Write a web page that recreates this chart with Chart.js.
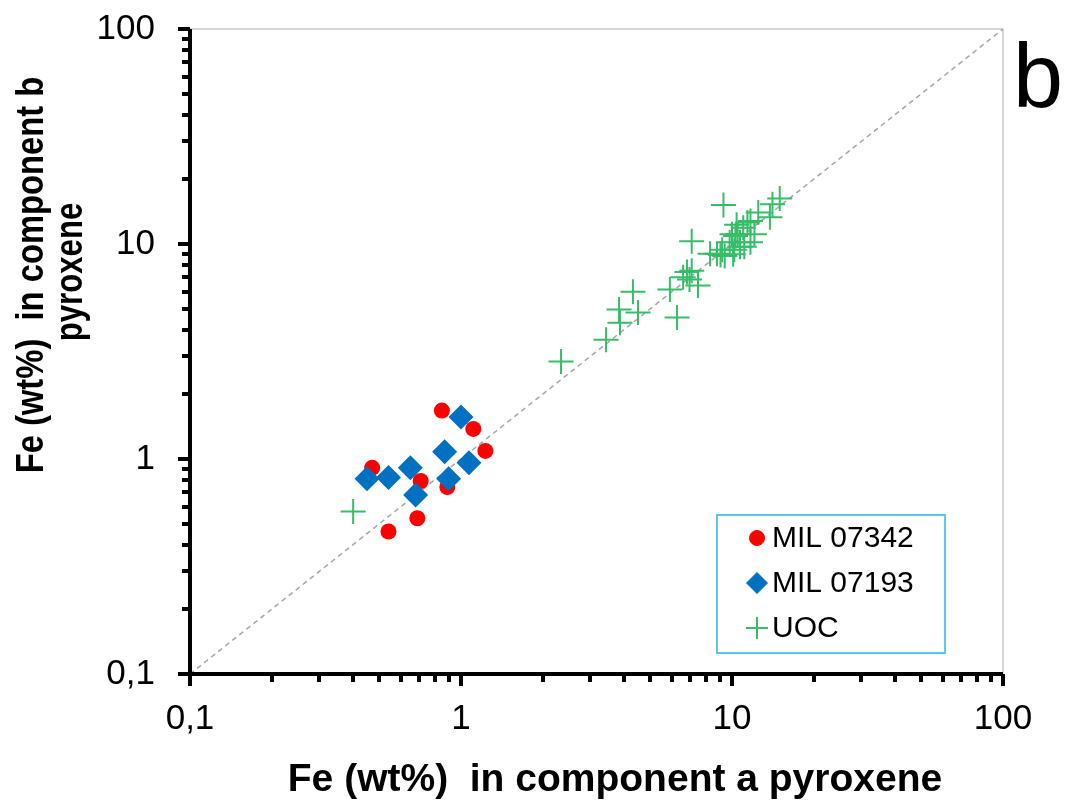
<!DOCTYPE html>
<html>
<head>
<meta charset="utf-8">
<script src="https://cdn.jsdelivr.net/npm/chart.js@4.4.1/dist/chart.umd.min.js"></script>
<style>
html, body { margin: 0; padding: 0; background: #fff; }
#wrap { width: 1066px; height: 803px; }
</style>
</head>
<body>
<div id="wrap"><canvas id="chart" width="1066" height="803"></canvas></div>
<script>
// Fe (wt%) in component a / component b pyroxene
const mil07342A = [0.85, 1.11, 1.23, 0.47, 0.71, 0.89, 0.69, 0.54];
const mil07342B = [1.68, 1.38, 1.09, 0.91, 0.79, 0.74, 0.53, 0.46];

const mil07193A = [1.00, 0.87, 1.07, 0.65, 0.45, 0.54, 0.90, 0.68];
const mil07193B = [1.57, 1.08, 0.96, 0.91, 0.81, 0.82, 0.81, 0.68];

const uocA = [0.40, 2.34, 3.43, 3.83, 3.86, 4.31, 4.50, 5.90, 6.27, 6.60, 6.82, 7.10, 6.97, 7.49, 7.10,
              9.30, 8.30, 8.80, 9.07, 9.20, 9.40, 9.80, 10.0, 10.1, 10.2, 10.4, 10.5, 10.7, 11.0, 11.1,
              11.4, 11.7, 11.7, 12.1, 12.5, 13.8, 14.1, 15.0, 10.3, 10.7];
const uocB = [0.57, 2.84, 3.59, 4.96, 4.30, 6.00, 4.80, 6.15, 4.55, 7.00, 7.40, 7.50, 6.84, 6.41, 10.3,
              15.2, 9.00, 9.00, 8.90, 9.40, 8.80, 10.2, 11.1, 8.95, 9.40, 12.3, 11.1, 10.2, 11.9, 9.70,
              12.6, 10.2, 12.8, 11.1, 14.0, 13.3, 15.3, 16.3, 10.9, 9.70];

const oneToOne = [0.1, 100];

const axisMin = 0.1;
const axisMax = 100;
const decades = [-1, 0, 1];

const FONT = "Arial, 'Liberation Sans', sans-serif";

function pairs(xs, ys) {
    return xs.map((x, i) => ({ x: x, y: ys[i] }));
}

function decadeLabel(value) {
    const lg = Math.log10(value);
    if (Math.abs(lg - Math.round(lg)) > 1e-6) return '';
    return String(value).replace('.', ',');
}

const legendItems = [
    { text: 'MIL 07342', style: 'circle', radius: 7.5, color: '#ff0000', width: 1 },
    { text: 'MIL 07193', style: 'rectRot', radius: 10.5, color: '#0070c0', width: 1 },
    { text: 'UOC', style: 'cross', radius: 11, color: '#36bd68', width: 2 }
];

const framePlugin = {
    id: 'frame',
    beforeDatasetsDraw(chart) {
        const ctx = chart.ctx;
        const a = chart.chartArea;
        ctx.save();
        ctx.strokeStyle = '#c8c8c8';
        ctx.lineWidth = 1.5;
        ctx.beginPath();
        ctx.moveTo(a.left, a.top);
        ctx.lineTo(a.right, a.top);
        ctx.lineTo(a.right, a.bottom);
        ctx.stroke();
        ctx.restore();
    },
    afterDraw(chart) {
        const ctx = chart.ctx;
        const a = chart.chartArea;
        const xs = chart.scales.x;
        const ys = chart.scales.y;
        ctx.save();
        ctx.strokeStyle = '#000';
        ctx.lineWidth = 4;
        ctx.lineCap = 'butt';

        // tick marks, major and minor
        const values = [];
        decades.forEach(d => {
            for (let m = 1; m <= 9; m++) values.push({ v: m * Math.pow(10, d), major: m === 1 });
        });
        values.push({ v: axisMax, major: true });
        ctx.beginPath();
        values.forEach(t => {
            const len = t.major ? 12 : 8;
            const px = Math.round(xs.getPixelForValue(t.v));
            const py = Math.round(ys.getPixelForValue(t.v));
            ctx.moveTo(px, a.bottom);
            ctx.lineTo(px, a.bottom + len);
            ctx.moveTo(a.left, py);
            ctx.lineTo(a.left - len, py);
        });
        ctx.stroke();

        // axis lines
        ctx.beginPath();
        ctx.moveTo(a.left, a.top);
        ctx.lineTo(a.left, a.bottom + 2);
        ctx.moveTo(a.left - 2, a.bottom);
        ctx.lineTo(a.right, a.bottom);
        ctx.stroke();

        // axis titles
        ctx.fillStyle = '#000';
        ctx.font = 'bold 39px ' + FONT;
        ctx.textAlign = 'center';
        ctx.textBaseline = 'alphabetic';
        ctx.fillText('Fe (wt%)  in component a pyroxene', 615, 791);

        ctx.save();
        ctx.translate(43, 275);
        ctx.rotate(-Math.PI / 2);
        ctx.scale(0.84, 1);
        ctx.fillText('Fe (wt%)  in component b', 0, 0);
        ctx.restore();
        ctx.save();
        ctx.translate(82, 272);
        ctx.rotate(-Math.PI / 2);
        ctx.scale(0.8, 1);
        ctx.fillText('pyroxene', 0, 0);
        ctx.restore();

        // panel letter
        ctx.font = '90px ' + FONT;
        ctx.textAlign = 'left';
        ctx.fillText('b', 1013, 107);

        // legend box
        ctx.fillStyle = '#fff';
        ctx.fillRect(717, 515, 228, 138);
        ctx.strokeStyle = '#5cc8f2';
        ctx.lineWidth = 2;
        ctx.strokeRect(717, 515, 228, 138);
        ctx.font = '30px ' + FONT;
        ctx.textBaseline = 'middle';
        legendItems.forEach((item, i) => {
            const cy = 538 + i * 45;
            ctx.fillStyle = item.color;
            ctx.strokeStyle = item.color;
            ctx.lineWidth = item.width;
            Chart.helpers.drawPoint(ctx, { pointStyle: item.style, radius: item.radius, rotation: 0, borderWidth: item.width }, 757, cy);
            ctx.fillStyle = '#000';
            ctx.fillText(item.text, 772, cy + 1);
        });
        ctx.restore();
    }
};

const ctx = document.getElementById('chart').getContext('2d');
new Chart(ctx, {
    type: 'scatter',
    data: {
        datasets: [
            {
                label: 'MIL 07342',
                data: pairs(mil07342A, mil07342B),
                pointStyle: 'circle',
                pointRadius: 8,
                backgroundColor: '#ff0000',
                borderColor: '#ff0000',
                borderWidth: 0,
                order: 1
            },
            {
                label: 'MIL 07193',
                data: pairs(mil07193A, mil07193B),
                pointStyle: 'rectRot',
                pointRadius: 12.5,
                backgroundColor: '#0070c0',
                borderColor: '#0070c0',
                borderWidth: 0,
                order: 0
            },
            {
                label: 'UOC',
                data: pairs(uocA, uocB),
                pointStyle: 'cross',
                pointRadius: 12.5,
                backgroundColor: '#36bd68',
                borderColor: '#36bd68',
                borderWidth: 2,
                order: 2
            },
            {
                label: '1:1',
                type: 'line',
                data: pairs(oneToOne, oneToOne),
                borderColor: '#a6a6a6',
                borderWidth: 1.5,
                borderDash: [5, 4],
                pointRadius: 0,
                fill: false,
                order: 3
            }
        ]
    },
    options: {
        responsive: false,
        animation: false,
        devicePixelRatio: 1,
        layout: { padding: { left: 0, top: 29, right: 63, bottom: 0 } },
        plugins: {
            legend: { display: false },
            tooltip: { enabled: false }
        },
        scales: {
            x: {
                type: 'logarithmic',
                min: axisMin,
                max: axisMax,
                afterFit: function (scale) {
                    scale.height = 129;
                    scale.paddingLeft = 0;
                    scale.paddingRight = 0;
                },
                grid: { drawOnChartArea: false, drawTicks: true, tickLength: 12, color: 'rgba(0,0,0,0)' },
                border: { display: false },
                ticks: {
                    autoSkip: false,
                    maxRotation: 0,
                    padding: 12,
                    color: '#000',
                    font: { family: FONT, size: 35 },
                    callback: function (value) { return decadeLabel(value); }
                }
            },
            y: {
                type: 'logarithmic',
                min: axisMin,
                max: axisMax,
                afterFit: function (scale) {
                    scale.width = 190;
                    scale.paddingTop = 0;
                    scale.paddingBottom = 0;
                },
                grid: { drawOnChartArea: false, drawTicks: true, tickLength: 12, color: 'rgba(0,0,0,0)' },
                border: { display: false },
                ticks: {
                    autoSkip: false,
                    padding: 23,
                    color: '#000',
                    font: { family: FONT, size: 35 },
                    callback: function (value) { return decadeLabel(value); }
                }
            }
        }
    },
    plugins: [framePlugin]
});
</script>
</body>
</html>
